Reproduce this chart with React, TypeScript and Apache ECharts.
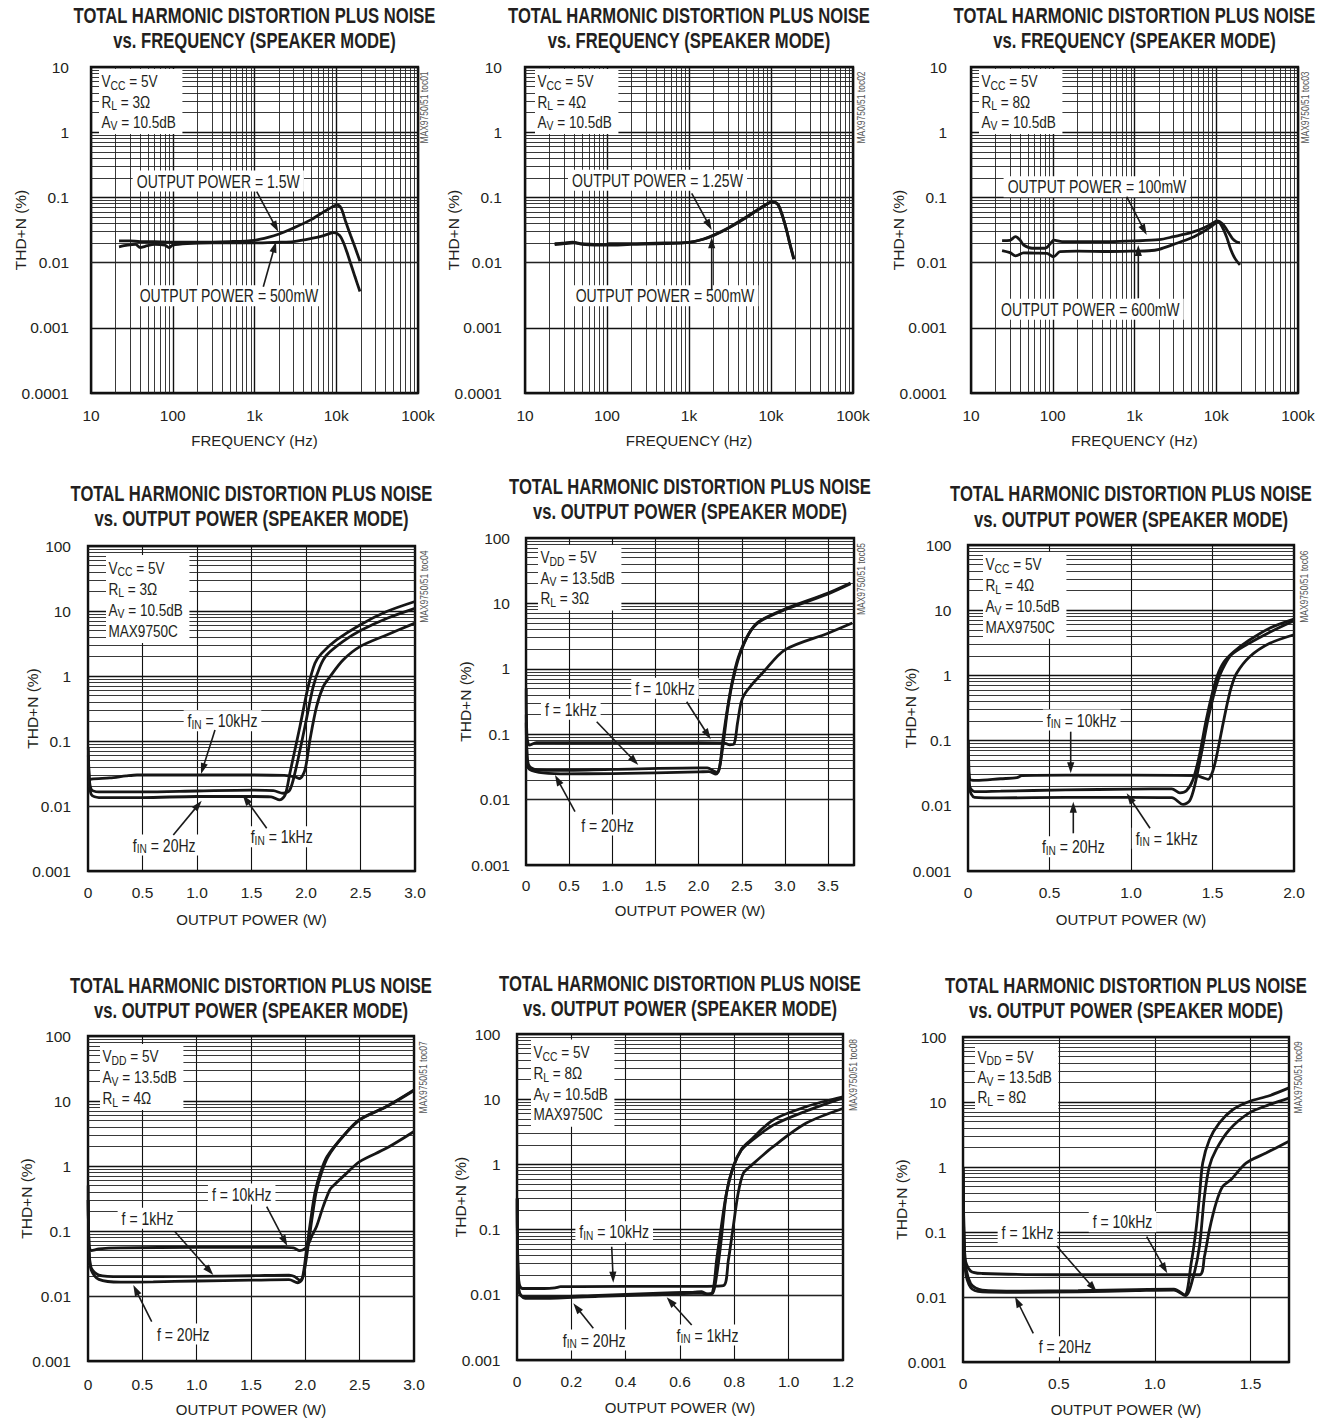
import React, { useEffect, useRef } from 'react';
import * as echarts from 'echarts';

// ---------- texts / tick labels ----------
const TITLE_1 = 'TOTAL HARMONIC DISTORTION PLUS NOISE';
const TITLE_2_FREQ = 'vs. FREQUENCY (SPEAKER MODE)';
const TITLE_2_POWER = 'vs. OUTPUT POWER (SPEAKER MODE)';
const Y_NAME = 'THD+N (%)';
const X_NAME_FREQ = 'FREQUENCY (Hz)';
const X_NAME_POWER = 'OUTPUT POWER (W)';

const freqTickLabels = ['10', '100', '1k', '10k', '100k'];
const thdFreqTickLabels = ['0.0001', '0.001', '0.01', '0.1', '1', '10'];
const thdPowerTickLabels = ['0.001', '0.01', '0.1', '1', '10', '100'];
const powerTicks30 = ['0', '0.5', '1.0', '1.5', '2.0', '2.5', '3.0'];
const powerTicks38 = ['0', '0.5', '1.0', '1.5', '2.0', '2.5', '3.0', '3.5'];
const powerTicks20 = ['0', '0.5', '1.0', '1.5', '2.0'];
const powerTicks12 = ['0', '0.2', '0.4', '0.6', '0.8', '1.0', '1.2'];
const powerTicks17 = ['0', '0.5', '1.0', '1.5'];

// ---------- data: [frequency Hz, THD+N %] ----------
const p1Out1500mW = [[22,0.0215],[30,0.0215],[40,0.021],[60,0.021],[100,0.0205],[200,0.0205],[500,0.021],[1000,0.022],[1500,0.0245],[2000,0.0275],[3000,0.034],[5000,0.046],[7000,0.06],[9000,0.072],[10200,0.0765],[11500,0.068],[13000,0.043],[15000,0.026],[17000,0.017],[19500,0.0105]];
const p1Out500mW = [[22,0.0175],[28,0.0185],[35,0.019],[40,0.017],[46,0.0178],[60,0.019],[80,0.0185],[90,0.017],[100,0.0185],[150,0.0195],[300,0.02],[1000,0.02],[2000,0.0205],[3000,0.021],[5000,0.0235],[7000,0.026],[9300,0.0288],[11000,0.026],[12300,0.02],[13500,0.0145],[15000,0.0097],[17000,0.006],[19500,0.0036]];

const p2Out1250mW = [[23,0.0195],[30,0.02],[38,0.0205],[50,0.0195],[70,0.019],[95,0.0188],[105,0.0195],[200,0.0195],[500,0.02],[1000,0.0205],[1500,0.023],[2000,0.0265],[3000,0.034],[5000,0.05],[7000,0.066],[9000,0.08],[10300,0.086],[12000,0.08],[13500,0.057],[15500,0.0315],[17000,0.0196],[19000,0.0115]];
const p2Out500mW = [[23,0.0188],[30,0.0195],[40,0.02],[50,0.019],[70,0.0185],[100,0.0185],[200,0.019],[500,0.0195],[1000,0.0205],[1500,0.0228],[2000,0.026],[3000,0.0335],[5000,0.049],[7000,0.065],[9000,0.079],[10300,0.085],[12000,0.079],[13500,0.056],[15500,0.031],[17000,0.019],[19000,0.0112]];

const p3Out100mW = [[24,0.0217],[30,0.022],[35,0.025],[40,0.022],[44,0.0186],[56,0.0166],[70,0.0166],[81,0.0166],[95,0.02],[103,0.0221],[130,0.021],[200,0.021],[500,0.021],[1000,0.0215],[2000,0.0225],[3000,0.025],[5000,0.029],[7000,0.034],[9000,0.04],[10200,0.0435],[12000,0.039],[13500,0.0316],[15700,0.0236],[17500,0.021],[19500,0.02]];
const p3Out600mW = [[24,0.0153],[30,0.0142],[35,0.0127],[44,0.0141],[60,0.014],[85,0.0139],[102,0.0123],[123,0.0147],[200,0.015],[500,0.0148],[1000,0.015],[1500,0.0152],[2000,0.016],[3000,0.019],[5000,0.024],[7000,0.03],[9000,0.037],[10500,0.042],[12000,0.034],[13500,0.024],[15000,0.016],[17000,0.0115],[19500,0.0092]];

// ---------- data: [output power W, THD+N %] ----------
const p4Fin10k = [[0.005,0.024],[0.03,0.026],[0.2,0.027],[0.35,0.029],[0.45,0.03],[1.0,0.03],[1.5,0.03],[1.8,0.0295],[1.9,0.028],[1.94,0.0265],[1.99,0.0355],[2.036,0.104],[2.097,0.337],[2.158,0.685],[2.22,0.975],[2.34,1.76],[2.495,2.83],[2.74,4.28],[3.0,6.5]];
const p4Fin1k = [[0.003,0.06],[0.01,0.03],[0.03,0.018],[0.1,0.0165],[0.5,0.0165],[1.0,0.017],[1.5,0.0175],[1.7,0.0172],[1.79,0.0157],[1.85,0.0175],[1.898,0.032],[1.99,0.166],[2.066,0.685],[2.128,1.39],[2.19,2.1],[2.34,3.4],[2.5,5.0],[2.75,7.8],[3.0,11]];
const p4Fin20 = [[0.003,0.08],[0.01,0.03],[0.03,0.015],[0.1,0.0135],[0.5,0.0135],[1.0,0.014],[1.5,0.014],[1.68,0.0138],[1.76,0.0124],[1.81,0.015],[1.852,0.0319],[1.944,0.166],[2.02,0.685],[2.082,1.57],[2.143,2.23],[2.28,3.58],[2.495,6.1],[2.74,9.8],[3.0,14]];

const p5F10k = [[0.003,0.5],[0.01,0.1],[0.04,0.068],[0.12,0.0745],[0.5,0.074],[1.0,0.074],[2.0,0.074],[2.3,0.073],[2.36,0.069],[2.41,0.071],[2.45,0.147],[2.49,0.3],[2.527,0.4],[2.6,0.54],[2.74,0.86],[3.0,1.95],[3.5,3.5],[3.78,5.0]];
const p5F1k = [[0.003,0.2],[0.01,0.06],[0.03,0.034],[0.1,0.029],[0.3,0.028],[1.0,0.029],[2.0,0.0305],[2.1,0.0305],[2.18,0.027],[2.22,0.026],[2.25,0.035],[2.296,0.092],[2.335,0.235],[2.39,0.6],[2.47,1.55],[2.585,3.5],[2.7,5.3],[3.0,8.2],[3.5,14.4],[3.76,20.5]];
const p5F20 = [[0.003,0.15],[0.01,0.05],[0.03,0.03],[0.15,0.026],[0.4,0.0248],[1.0,0.025],[2.0,0.0265],[2.12,0.0268],[2.2,0.0245],[2.24,0.03],[2.28,0.08],[2.33,0.23],[2.385,0.6],[2.46,1.5],[2.58,3.4],[2.7,5.2],[3.0,8.0],[3.5,14],[3.76,20]];

const p6Fin10k = [[0.003,0.1],[0.01,0.026],[0.05,0.0245],[0.2,0.026],[0.3,0.027],[0.33,0.029],[0.6,0.0295],[1.0,0.0295],[1.4,0.029],[1.44,0.027],[1.473,0.0255],[1.5,0.033],[1.524,0.056],[1.565,0.183],[1.595,0.417],[1.616,0.67],[1.647,1.07],[1.728,1.93],[1.851,3.1],[2.0,4.2]];
const p6Fin1k = [[0.003,0.05],[0.01,0.02],[0.04,0.0165],[0.2,0.0168],[0.6,0.0175],[1.0,0.018],[1.25,0.0182],[1.3,0.0158],[1.34,0.017],[1.38,0.025],[1.42,0.06],[1.46,0.2],[1.5,0.55],[1.53,1.0],[1.57,1.6],[1.63,2.3],[1.72,3.4],[1.85,5.3],[2.0,7.3]];
const p6Fin20 = [[0.003,0.05],[0.01,0.018],[0.04,0.0135],[0.2,0.0132],[0.6,0.0135],[1.0,0.0135],[1.25,0.0133],[1.32,0.0105],[1.36,0.012],[1.39,0.02],[1.43,0.06],[1.48,0.26],[1.534,0.85],[1.575,1.45],[1.616,2.07],[1.708,2.94],[1.851,4.6],[2.0,6.9]];

const p7F10k = [[0.002,0.5],[0.01,0.06],[0.03,0.05],[0.1,0.053],[0.3,0.055],[1.0,0.056],[1.8,0.056],[1.89,0.055],[1.95,0.05],[2.0,0.054],[2.03,0.064],[2.057,0.082],[2.103,0.117],[2.164,0.237],[2.225,0.43],[2.26,0.5],[2.378,0.77],[2.5,1.17],[2.745,1.87],[3.0,3.4]];
const p7F1k = [[0.002,0.3],[0.01,0.05],[0.03,0.027],[0.1,0.021],[0.3,0.0198],[1.0,0.02],[1.5,0.0205],[1.85,0.021],[1.9,0.02],[1.95,0.0175],[1.98,0.02],[2.02,0.05],[2.06,0.15],[2.1,0.4],[2.15,0.8],[2.21,1.4],[2.35,2.9],[2.5,5.2],[2.75,8.3],[3.0,14.8]];
const p7F20 = [[0.002,0.3],[0.01,0.05],[0.03,0.025],[0.1,0.018],[0.3,0.0163],[0.6,0.0165],[1.0,0.017],[1.5,0.0175],[1.85,0.0178],[1.93,0.016],[1.97,0.018],[2.01,0.05],[2.05,0.15],[2.09,0.4],[2.14,0.8],[2.2,1.4],[2.35,2.9],[2.5,5.1],[2.75,8.2],[3.0,14.5]];

const p8Fin10k = [[0.001,0.3],[0.005,0.02],[0.02,0.0125],[0.1,0.0125],[0.14,0.0128],[0.16,0.0133],[0.4,0.0135],[0.6,0.0135],[0.7,0.0135],[0.76,0.0138],[0.778,0.034],[0.796,0.111],[0.814,0.36],[0.833,0.73],[0.857,0.92],[0.943,1.87],[1.065,4.3],[1.2,7.2]];
const p8Fin1k = [[0.001,0.3],[0.005,0.015],[0.02,0.0095],[0.1,0.0092],[0.3,0.0098],[0.5,0.0105],[0.65,0.011],[0.68,0.0112],[0.7,0.0102],[0.72,0.0105],[0.735,0.02],[0.75,0.06],[0.771,0.36],[0.796,0.92],[0.826,1.66],[0.857,2.2],[0.943,4.0],[1.065,6.6],[1.2,10.5]];
const p8Fin20 = [[0.001,0.3],[0.005,0.012],[0.03,0.0088],[0.1,0.0088],[0.3,0.0095],[0.5,0.01],[0.65,0.0105],[0.68,0.0105],[0.7,0.0103],[0.72,0.011],[0.735,0.035],[0.752,0.111],[0.771,0.36],[0.796,0.92],[0.826,1.7],[0.857,2.3],[0.943,4.8],[1.065,7.7],[1.2,10.9]];

const p9F10k = [[0.002,1.0],[0.01,0.04],[0.04,0.025],[0.1,0.023],[0.5,0.022],[1.0,0.022],[1.233,0.022],[1.259,0.042],[1.285,0.108],[1.32,0.28],[1.354,0.5],[1.398,0.64],[1.476,1.15],[1.58,1.64],[1.7,2.5]];
const p9F1k = [[0.002,0.8],[0.01,0.04],[0.04,0.016],[0.1,0.0128],[0.3,0.0123],[0.6,0.0125],[0.9,0.013],[1.1,0.0132],[1.155,0.0108],[1.19,0.0334],[1.215,0.108],[1.233,0.353],[1.25,1.15],[1.285,2.63],[1.337,4.76],[1.406,7.6],[1.493,10.2],[1.597,12.5],[1.7,16.5]];
const p9F20 = [[0.002,0.5],[0.01,0.03],[0.04,0.014],[0.1,0.012],[0.3,0.0118],[0.6,0.012],[0.9,0.0125],[1.1,0.0128],[1.16,0.0105],[1.2,0.02],[1.233,0.06],[1.259,0.353],[1.285,1.02],[1.32,1.85],[1.389,3.75],[1.493,6.8],[1.597,9.1],[1.7,11.5]];

// ---------- layout ----------
const FONT = 'Liberation Sans';
const INK = '#231f20';

type Panel = {
  rect: [number, number, number, number];
  kind: 'freq' | 'power';
  xMax?: number; xInterval?: number; xTicks?: string[];
  series: number[][][];
  titleY: [number, number];
  yLabelMargin: number; yNameGap: number; xLabelMargin: number; xNameGap: number;
  box: { x: number; y: number; lh: number; lines: string[] };
  labels: { text: string; cx: number; cy: number }[];
  arrows: number[][];
  code: { text: string; x: number; y: number };
};

const panels: Panel[] = [
  {
    rect: [91, 67, 327, 326], kind: 'freq', series: [p1Out1500mW, p1Out500mW], titleY: [15, 40],
    yLabelMargin: 22, yNameGap: 63, xLabelMargin: 14, xNameGap: 40,
    box: { x: 99, y: 69, lh: 20.3, lines: ['V{s|CC} = 5V', 'R{s|L} = 3Ω', 'A{s|V} = 10.5dB'] },
    labels: [{ text: 'OUTPUT POWER = 1.5W', cx: 218.3, cy: 181 }, { text: 'OUTPUT POWER = 500mW', cx: 229, cy: 295.7 }],
    arrows: [[256.7, 191.7, 278.3, 231.7], [263.3, 286.7, 276, 241.7]],
    code: { text: 'MAX9750/51 toc01', x: 425, y: 107.5 },
  },
  {
    rect: [525, 67, 328, 326], kind: 'freq', series: [p2Out1250mW, p2Out500mW], titleY: [15, 40],
    yLabelMargin: 23, yNameGap: 63.5, xLabelMargin: 14, xNameGap: 40,
    box: { x: 535, y: 69, lh: 20.3, lines: ['V{s|CC} = 5V', 'R{s|L} = 4Ω', 'A{s|V} = 10.5dB'] },
    labels: [{ text: 'OUTPUT POWER = 1.25W', cx: 657.5, cy: 180.3 }, { text: 'OUTPUT POWER = 500mW', cx: 665, cy: 295.7 }],
    arrows: [[691.7, 193.3, 711.7, 230], [711.7, 290, 711.7, 237.3]],
    code: { text: 'MAX9750/51 toc02', x: 861.7, y: 107.5 },
  },
  {
    rect: [971, 67, 327, 326], kind: 'freq', series: [p3Out100mW, p3Out600mW], titleY: [15, 40],
    yLabelMargin: 24, yNameGap: 64.5, xLabelMargin: 14, xNameGap: 40,
    box: { x: 979, y: 69, lh: 20.3, lines: ['V{s|CC} = 5V', 'R{s|L} = 8Ω', 'A{s|V} = 10.5dB'] },
    labels: [{ text: 'OUTPUT POWER = 100mW', cx: 1097, cy: 186.7 }, { text: 'OUTPUT POWER = 600mW', cx: 1090.3, cy: 309.3 }],
    arrows: [[1126.7, 196.7, 1146.7, 235], [1138.3, 298.3, 1138.3, 245]],
    code: { text: 'MAX9750/51 toc03', x: 1306, y: 107.5 },
  },
  {
    rect: [88, 546, 327, 325], kind: 'power', xMax: 3.0, xInterval: 0.5, xTicks: powerTicks30,
    series: [p4Fin10k, p4Fin1k, p4Fin20], titleY: [493, 518],
    yLabelMargin: 17, yNameGap: 48, xLabelMargin: 13, xNameGap: 41,
    box: { x: 106, y: 555, lh: 21, lines: ['V{s|CC} = 5V', 'R{s|L} = 3Ω', 'A{s|V} = 10.5dB', 'MAX9750C'] },
    labels: [{ text: 'f{s|IN} = 10kHz', cx: 222.5, cy: 720.7 }, { text: 'f{s|IN} = 20Hz', cx: 164.2, cy: 845 }, { text: 'f{s|IN} = 1kHz', cx: 281.7, cy: 836.7 }],
    arrows: [[215, 730, 201, 774], [173.3, 835, 201.7, 800.7], [266.7, 828.3, 242.7, 795]],
    code: { text: 'MAX9750/51 toc04', x: 425, y: 586.7 },
  },
  {
    rect: [526, 538, 328, 327], kind: 'power', xMax: 3.8, xInterval: 0.5, xTicks: powerTicks38,
    series: [p5F10k, p5F1k, p5F20], titleY: [486, 511],
    yLabelMargin: 16, yNameGap: 53, xLabelMargin: 12, xNameGap: 38,
    box: { x: 538, y: 545, lh: 20.5, lines: ['V{s|DD} = 5V', 'A{s|V} = 13.5dB', 'R{s|L} = 3Ω'] },
    labels: [{ text: 'f = 10kHz', cx: 665, cy: 688.3 }, { text: 'f = 1kHz', cx: 570.8, cy: 709.3 }, { text: 'f = 20Hz', cx: 607.5, cy: 825 }],
    arrows: [[686.7, 701.7, 710.7, 739.3], [596.7, 721.7, 638.3, 765], [575, 811.7, 555, 775]],
    code: { text: 'MAX9750/51 toc05', x: 861.7, y: 579 },
  },
  {
    rect: [968, 545, 326, 326], kind: 'power', xMax: 2.0, xInterval: 0.5, xTicks: powerTicks20,
    series: [p6Fin10k, p6Fin1k, p6Fin20], titleY: [493, 519],
    yLabelMargin: 16.5, yNameGap: 50, xLabelMargin: 13.5, xNameGap: 41,
    box: { x: 983, y: 552, lh: 20.7, lines: ['V{s|CC} = 5V', 'R{s|L} = 4Ω', 'A{s|V} = 10.5dB', 'MAX9750C'] },
    labels: [{ text: 'f{s|IN} = 10kHz', cx: 1081.7, cy: 720 }, { text: 'f{s|IN} = 20Hz', cx: 1073.3, cy: 846.7 }, { text: 'f{s|IN} = 1kHz', cx: 1166.7, cy: 838.3 }],
    arrows: [[1070.7, 731.7, 1070.7, 773.3], [1073.3, 833.3, 1073.3, 801.7], [1150, 828.3, 1126.7, 793.3]],
    code: { text: 'MAX9750/51 toc06', x: 1305, y: 586.7 },
  },
  {
    rect: [88, 1036, 326, 325], kind: 'power', xMax: 3.0, xInterval: 0.5, xTicks: powerTicks30,
    series: [p7F10k, p7F1k, p7F20], titleY: [985, 1010],
    yLabelMargin: 17, yNameGap: 54, xLabelMargin: 15, xNameGap: 41,
    box: { x: 100, y: 1044, lh: 20.7, lines: ['V{s|DD} = 5V', 'A{s|V} = 13.5dB', 'R{s|L} = 4Ω'] },
    labels: [{ text: 'f = 10kHz', cx: 241.7, cy: 1194 }, { text: 'f = 1kHz', cx: 147.5, cy: 1218.3 }, { text: 'f = 20Hz', cx: 183.3, cy: 1334 }],
    arrows: [[266.7, 1206.7, 287.3, 1246], [175, 1231.7, 213.3, 1275], [151.7, 1321.7, 133.3, 1285]],
    code: { text: 'MAX9750/51 toc07', x: 423.3, y: 1077.3 },
  },
  {
    rect: [517, 1034, 326, 326], kind: 'power', xMax: 1.2, xInterval: 0.2, xTicks: powerTicks12,
    series: [p8Fin10k, p8Fin1k, p8Fin20], titleY: [983, 1008],
    yLabelMargin: 16.5, yNameGap: 49, xLabelMargin: 13.5, xNameGap: 40,
    box: { x: 531, y: 1039.5, lh: 20.8, lines: ['V{s|CC} = 5V', 'R{s|L} = 8Ω', 'A{s|V} = 10.5dB', 'MAX9750C'] },
    labels: [{ text: 'f{s|IN} = 10kHz', cx: 614.2, cy: 1231.7 }, { text: 'f{s|IN} = 20Hz', cx: 594.2, cy: 1340 }, { text: 'f{s|IN} = 1kHz', cx: 707.5, cy: 1335 }],
    arrows: [[611.7, 1246.7, 613.3, 1282.7], [593.3, 1328.3, 573.3, 1303.3], [691.7, 1325, 666.7, 1297.3]],
    code: { text: 'MAX9750/51 toc08', x: 853.3, y: 1075 },
  },
  {
    rect: [963, 1037, 326, 325], kind: 'power', xMax: 1.7, xInterval: 0.5, xTicks: powerTicks17,
    series: [p9F10k, p9F1k, p9F20], titleY: [985, 1010],
    yLabelMargin: 16.5, yNameGap: 54, xLabelMargin: 13.5, xNameGap: 39.5,
    box: { x: 975, y: 1044.5, lh: 20.3, lines: ['V{s|DD} = 5V', 'A{s|V} = 13.5dB', 'R{s|L} = 8Ω'] },
    labels: [{ text: 'f = 10kHz', cx: 1122.5, cy: 1221.7 }, { text: 'f = 1kHz', cx: 1027.5, cy: 1232.7 }, { text: 'f = 20Hz', cx: 1065, cy: 1346.7 }],
    arrows: [[1146.7, 1236.7, 1167.3, 1273.3], [1056.7, 1246, 1096.7, 1291.7], [1033.3, 1333.3, 1015, 1296.7]],
    code: { text: 'MAX9750/51 toc09', x: 1298.3, y: 1077.3 },
  },
];

function logMinors(minExp: number, maxExp: number): number[] {
  const out: number[] = [];
  for (let e = minExp; e < maxExp; e++) for (let k = 2; k <= 9; k++) out.push(k * Math.pow(10, e));
  return out;
}

function hasFont(ctx: CanvasRenderingContext2D, name: string): boolean {
  const sample = 'MAX9750 abcdefghij 0.001';
  ctx.font = '40px monospace';
  const a = ctx.measureText(sample).width;
  ctx.font = `40px "${name}", monospace`;
  const b = ctx.measureText(sample).width;
  return Math.abs(a - b) > 0.5;
}

function arrowEls(a: number[]) {
  const [x1, y1, x2, y2] = a;
  const dx = x2 - x1, dy = y2 - y1;
  const L = Math.hypot(dx, dy);
  const ux = dx / L, uy = dy / L;
  const hl = 11, hw = 3.6;
  const bx = x2 - ux * hl, by = y2 - uy * hl;
  return [
    { type: 'line', z: 110, silent: true, shape: { x1, y1, x2: bx + ux * 2, y2: by + uy * 2 }, style: { stroke: '#1a1a1a', lineWidth: 1.6 } },
    { type: 'polygon', z: 110, silent: true, shape: { points: [[x2, y2], [bx - uy * hw, by + ux * hw], [bx + uy * hw, by - ux * hw]] }, style: { fill: '#1a1a1a' } },
  ];
}

export default function App() {
  const ref = useRef<HTMLDivElement>(null);

  useEffect(() => {
    if (!ref.current) return;
    const chart = echarts.init(ref.current, null, { renderer: 'svg' });

    const cv = document.createElement('canvas').getContext('2d') as CanvasRenderingContext2D;
    const narrow = hasFont(cv, 'Liberation Sans Narrow');
    const axisFont = narrow ? 'Liberation Sans Narrow' : FONT;
    const tickFontSize = narrow ? 16.5 : 15.5;
    const nameFontSize = narrow ? 16.5 : 15.5;
    cv.font = `bold 22px "${FONT}"`;
    const titleScale = 362 / cv.measureText(TITLE_1).width;

    const subRich = {
      s: { fontSize: 13, fontFamily: FONT, fill: INK, color: INK, lineHeight: 13, verticalAlign: 'bottom', align: 'left' },
    };

    const grids: any[] = [];
    const xAxes: any[] = [];
    const yAxes: any[] = [];
    const series: any[] = [];
    const graphics: any[] = [];

    const labelStyle = { fontFamily: axisFont, fontSize: tickFontSize, color: INK };
    const nameStyle = { fontFamily: axisFont, fontSize: nameFontSize, color: INK };

    panels.forEach((p, i) => {
      const [left, top, width, height] = p.rect;
      grids.push({ left, top, width, height, show: true, borderColor: '#111', borderWidth: 2.4, backgroundColor: 'transparent', containLabel: false, outerBoundsMode: 'none' });

      const isFreq = p.kind === 'freq';
      const yMinExp = isFreq ? -4 : -3;
      const yMaxExp = isFreq ? 1 : 2;
      const yLabels = isFreq ? thdFreqTickLabels : thdPowerTickLabels;

      if (isFreq) {
        xAxes.push({
          type: 'log', logBase: 10, min: 10, max: 100000, gridIndex: i,
          axisLine: { show: false }, axisTick: { show: false },
          splitLine: { show: true, lineStyle: { color: '#111', width: 1.4 } },
          axisLabel: { ...labelStyle, margin: p.xLabelMargin, formatter: (v: number) => freqTickLabels[Math.round(Math.log10(v)) - 1] ?? '' },
          name: X_NAME_FREQ, nameLocation: 'middle', nameGap: p.xNameGap, nameTextStyle: { ...nameStyle, fontSize: 15 },
        });
      } else {
        const iv = p.xInterval as number;
        const ticks = p.xTicks as string[];
        xAxes.push({
          type: 'value', min: 0, max: p.xMax, interval: iv, gridIndex: i,
          axisLine: { show: false }, axisTick: { show: false },
          splitLine: { show: true, lineStyle: { color: '#111', width: 1.1 } },
          axisLabel: {
            ...labelStyle, margin: p.xLabelMargin,
            formatter: (v: number) => {
              const k = v / iv; const r = Math.round(k);
              return Math.abs(k - r) > 1e-6 ? '' : (ticks[r] ?? '');
            },
          },
          name: X_NAME_POWER, nameLocation: 'middle', nameGap: p.xNameGap, nameTextStyle: { ...nameStyle, fontSize: 15 },
        });
      }
      yAxes.push({
        type: 'log', logBase: 10, min: Math.pow(10, yMinExp), max: Math.pow(10, yMaxExp), gridIndex: i,
        axisLine: { show: false }, axisTick: { show: false },
        splitLine: { show: true, lineStyle: { color: '#111', width: 1.4 } },
        axisLabel: { ...labelStyle, margin: p.yLabelMargin, formatter: (v: number) => yLabels[Math.round(Math.log10(v)) - yMinExp] ?? '' },
        name: Y_NAME, nameLocation: 'middle', nameRotate: 90, nameGap: p.yNameGap, nameMoveOverlap: false, nameTextStyle: nameStyle,
      });

      // minor grid lines (log decades 2..9, and 2..9 of frequency decades)
      const minorY = logMinors(yMinExp, yMaxExp).map((v) => ({ yAxis: v }));
      const minorX = isFreq ? logMinors(1, 5).map((v) => ({ xAxis: v })) : [];
      series.push({
        type: 'line', xAxisIndex: i, yAxisIndex: i, data: [], silent: true, z: 2,
        markLine: {
          silent: true, symbol: ['none', 'none'], label: { show: false }, animation: false,
          lineStyle: { color: '#222', width: 0.9, type: 'solid' },
          emphasis: { disabled: true },
          data: [...minorY, ...minorX],
        },
      });

      p.series.forEach((d) => {
        series.push({
          type: 'line', xAxisIndex: i, yAxisIndex: i, data: d, showSymbol: false, symbol: 'none',
          smooth: 0.3, silent: true, z: 5,
          lineStyle: { color: '#161616', width: 2.8 },
        });
      });

      // titles
      const cx = left + width / 2;
      graphics.push({ type: 'text', x: cx, y: p.titleY[0], scaleX: titleScale, z: 100, silent: true,
        style: { text: TITLE_1, fontSize: 22, fontWeight: 'bold', fontFamily: FONT, fill: INK, align: 'center', verticalAlign: 'middle', textAlign: 'center', textVerticalAlign: 'middle' } });
      graphics.push({ type: 'text', x: cx, y: p.titleY[1], scaleX: titleScale, z: 100, silent: true,
        style: { text: isFreq ? TITLE_2_FREQ : TITLE_2_POWER, fontSize: 22, fontWeight: 'bold', fontFamily: FONT, fill: INK, align: 'center', verticalAlign: 'middle', textAlign: 'center', textVerticalAlign: 'middle' } });

      // condition box
      graphics.push({ type: 'text', x: p.box.x, y: p.box.y, scaleX: 0.8, z: 100, silent: true,
        style: { text: p.box.lines.join('\n'), fontSize: 17, fontFamily: FONT, fill: INK, lineHeight: p.box.lh, align: 'left', verticalAlign: 'top', textAlign: 'left', textVerticalAlign: 'top', backgroundColor: '#fff', padding: [2, 8, 2, 3], rich: subRich } });

      // curve labels
      p.labels.forEach((l) => {
        graphics.push({ type: 'text', x: l.cx, y: l.cy, scaleX: 0.78, z: 105, silent: true,
          style: { text: l.text, fontSize: 18, fontFamily: FONT, fill: INK, lineHeight: 19, align: 'center', verticalAlign: 'middle', textAlign: 'center', textVerticalAlign: 'middle', backgroundColor: '#fff', padding: [1, 5, 1, 5], rich: subRich } });
      });
      p.arrows.forEach((a) => graphics.push(...arrowEls(a)));

      // figure code
      graphics.push({ type: 'text', x: p.code.x, y: p.code.y, rotation: Math.PI / 2, scaleX: 0.85, z: 100, silent: true,
        style: { text: p.code.text, fontSize: 10, fontFamily: FONT, fill: '#555', align: 'center', verticalAlign: 'middle', textAlign: 'center', textVerticalAlign: 'middle' } });
    });

    chart.setOption({
      animation: false,
      backgroundColor: '#ffffff',
      textStyle: { fontFamily: FONT, color: INK },
      grid: grids,
      xAxis: xAxes,
      yAxis: yAxes,
      series,
      graphic: graphics,
    });

    return () => chart.dispose();
  }, []);

  return <div ref={ref} style={{ position: 'absolute', left: 0, top: 0, width: 1325, height: 1419 }} />;
}
